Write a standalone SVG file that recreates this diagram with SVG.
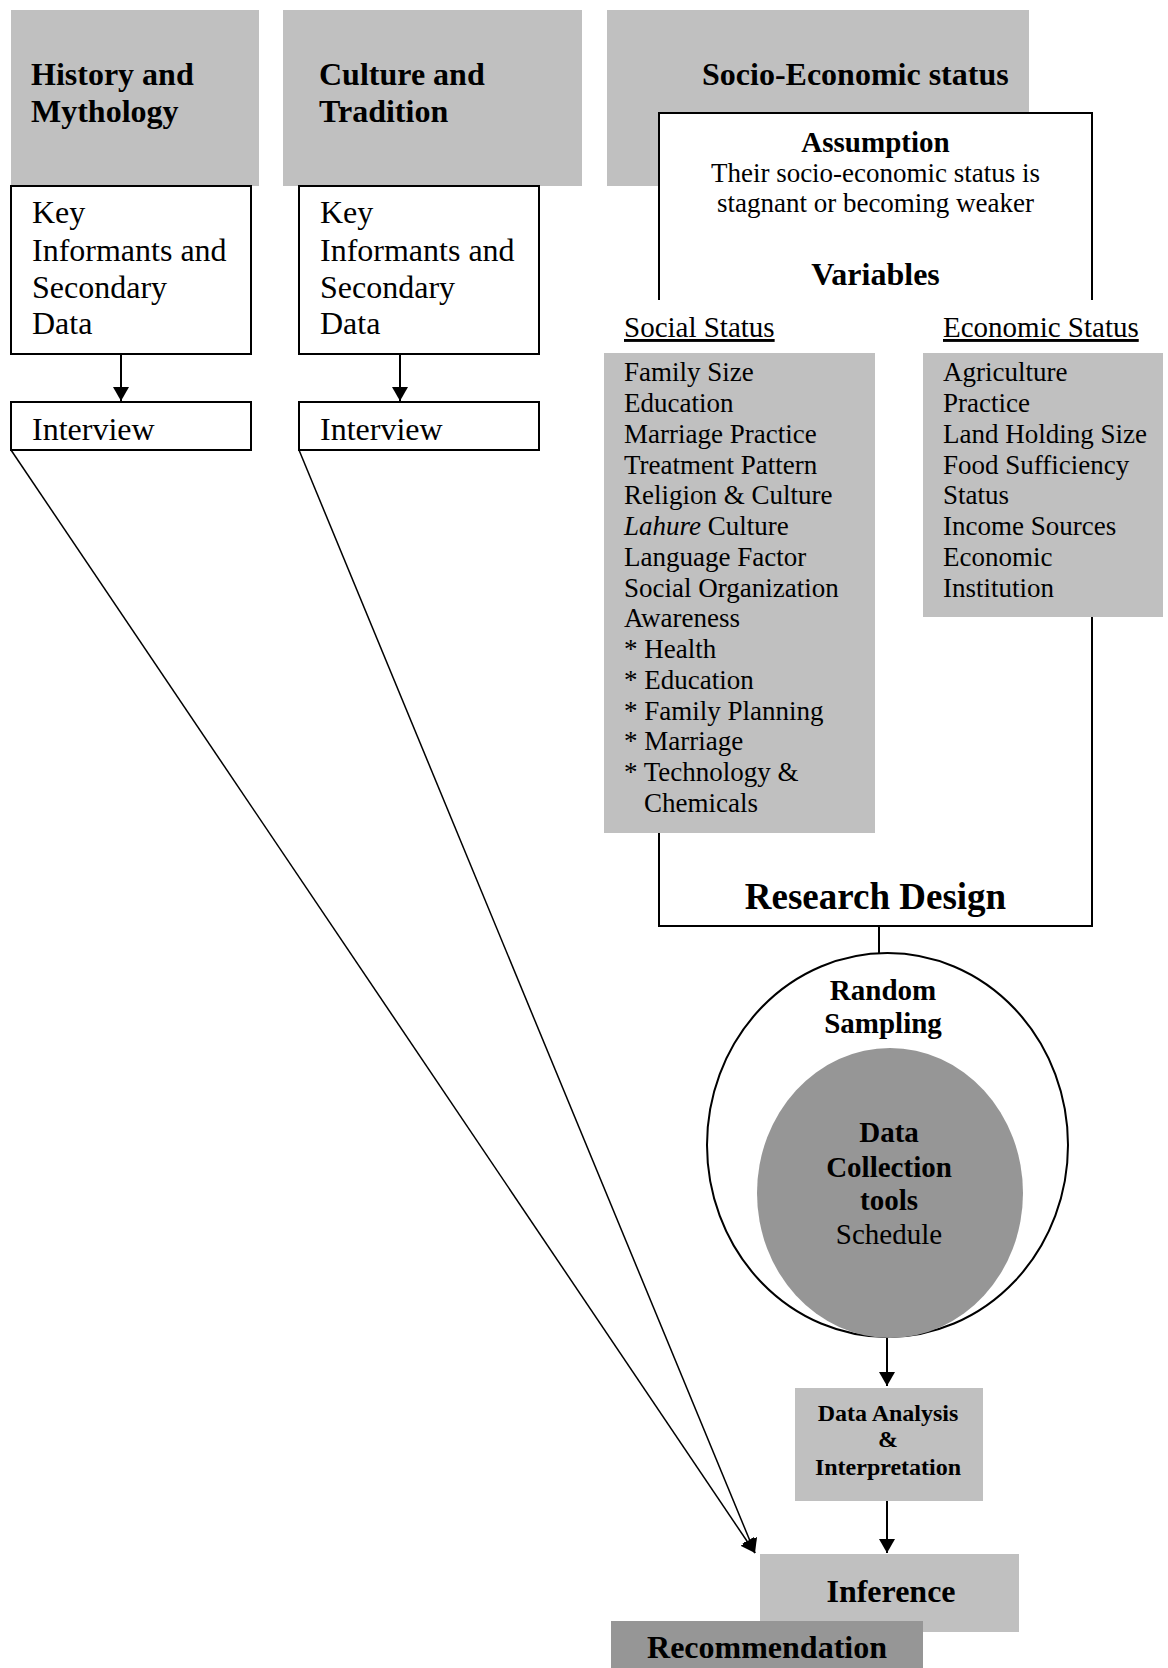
<svg xmlns="http://www.w3.org/2000/svg" width="1168" height="1668" viewBox="0 0 1168 1668">
<style>
text{font-family:"Liberation Serif","Times New Roman",serif;fill:#000}
.b{font-weight:bold}
.h{font-size:32px;font-weight:bold}
.k{font-size:32px}
.s{font-size:27px}
.m{font-size:29px}
.c{text-anchor:middle}
.lg{fill:#c0c0c0;stroke:none}
.dg{fill:#969696;stroke:none}
.wb{fill:#fff;stroke:#000;stroke-width:2}
.ln{fill:none;stroke:#000;stroke-width:2}
.dl{fill:none;stroke:#000;stroke-width:1.5}
</style>
<defs>
<marker id="ah" viewBox="0 0 14 16" refX="14" refY="8" markerWidth="14" markerHeight="16" markerUnits="userSpaceOnUse" orient="auto">
<path d="M0,0 L14,8 L0,16 z" fill="#000"/>
</marker>
</defs>
<rect width="1168" height="1668" fill="#fff"/>

<g id="history">
<rect class="lg" x="11" y="10" width="248" height="176"/>
<text class="h" x="31" y="85">History and</text>
<text class="h" x="31" y="122">Mythology</text>
</g>
<g id="culture">
<rect class="lg" x="283" y="10" width="299" height="176"/>
<text class="h" x="319" y="85">Culture and</text>
<text class="h" x="319" y="122">Tradition</text>
</g>
<g id="socio">
<rect class="lg" x="607" y="10" width="422" height="176"/>
<text class="h" x="702" y="85">Socio-Economic status</text>
</g>

<g id="key1">
<rect class="wb" x="11" y="186" width="240" height="168"/>
<text class="k" x="32" y="223">Key</text>
<text class="k" x="32" y="261">Informants and</text>
<text class="k" x="32" y="298">Secondary</text>
<text class="k" x="32" y="334">Data</text>
</g>
<g id="key2">
<rect class="wb" x="299" y="186" width="240" height="168"/>
<text class="k" x="320" y="223">Key</text>
<text class="k" x="320" y="261">Informants and</text>
<text class="k" x="320" y="298">Secondary</text>
<text class="k" x="320" y="334">Data</text>
</g>
<g id="interview1">
<rect class="wb" x="11" y="402" width="240" height="48"/>
<text class="k" x="32" y="440">Interview</text>
</g>
<g id="interview2">
<rect class="wb" x="299" y="402" width="240" height="48"/>
<text class="k" x="320" y="440">Interview</text>
</g>

<g id="framework">
<rect x="659" y="113" width="433" height="187" fill="#fff"/>
<path class="ln" d="M659,300 V113 H1092 V300"/>
<path class="ln" d="M659,820 V926 H1092 V600"/>
<text class="c b" x="875.5" y="152" style="font-size:29px">Assumption</text>
<text class="c s" x="875.5" y="182">Their socio-economic status is</text>
<text class="c s" x="875.5" y="212">stagnant or becoming weaker</text>
<text class="c h" x="875.5" y="285">Variables</text>
<text class="c b" x="875.5" y="909" style="font-size:37px">Research Design</text>
</g>

<g id="social">
<text class="m" x="624" y="337" text-decoration="underline">Social Status</text>
<rect class="lg" x="604" y="353" width="271" height="480"/>
<text class="s" x="624" y="381">Family Size</text>
<text class="s" x="624" y="412">Education</text>
<text class="s" x="624" y="443">Marriage Practice</text>
<text class="s" x="624" y="474">Treatment Pattern</text>
<text class="s" x="624" y="504">Religion &amp; Culture</text>
<text class="s" x="624" y="535"><tspan font-style="italic">Lahure</tspan> Culture</text>
<text class="s" x="624" y="566">Language Factor</text>
<text class="s" x="624" y="597">Social Organization</text>
<text class="s" x="624" y="627">Awareness</text>
<text class="s" x="624" y="658">* Health</text>
<text class="s" x="624" y="689">* Education</text>
<text class="s" x="624" y="720">* Family Planning</text>
<text class="s" x="624" y="750">* Marriage</text>
<text class="s" x="624" y="781">* Technology &amp;</text>
<text class="s" x="644" y="812">Chemicals</text>
</g>

<g id="economic">
<text class="m" x="943" y="337" text-decoration="underline">Economic Status</text>
<rect class="lg" x="923" y="353" width="240" height="264"/>
<text class="s" x="943" y="381">Agriculture</text>
<text class="s" x="943" y="412">Practice</text>
<text class="s" x="943" y="443">Land Holding Size</text>
<text class="s" x="943" y="474">Food Sufficiency</text>
<text class="s" x="943" y="504">Status</text>
<text class="s" x="943" y="535">Income Sources</text>
<text class="s" x="943" y="566">Economic</text>
<text class="s" x="943" y="597">Institution</text>
</g>

<g id="sampling">
<ellipse cx="887.5" cy="1145" rx="180.5" ry="192" class="wb"/>
<text class="c b" x="883" y="1000" style="font-size:29px">Random</text>
<text class="c b" x="883" y="1033" style="font-size:29px">Sampling</text>
</g>
<g id="tools">
<ellipse cx="890" cy="1193" rx="133" ry="145" class="dg"/>
<text class="c b" x="889" y="1142" style="font-size:29px">Data</text>
<text class="c b" x="889" y="1177" style="font-size:29px">Collection</text>
<text class="c b" x="889" y="1210" style="font-size:29px">tools</text>
<text class="c" x="889" y="1244" style="font-size:29px">Schedule</text>
</g>

<g id="analysis">
<rect class="lg" x="795" y="1388" width="188" height="113"/>
<text class="c b" x="888" y="1421" style="font-size:24px">Data Analysis</text>
<text class="c b" x="888" y="1447" style="font-size:24px">&amp;</text>
<text class="c b" x="888" y="1475" style="font-size:24px">Interpretation</text>
</g>
<g id="inference">
<rect class="lg" x="760" y="1554" width="259" height="78"/>
<text class="c h" x="891" y="1602">Inference</text>
</g>
<g id="recommendation">
<rect class="dg" x="611" y="1621" width="312" height="47"/>
<text class="c h" x="767" y="1658">Recommendation</text>
</g>

<g id="connectors">
<line class="ln" x1="121" y1="354" x2="121" y2="401" marker-end="url(#ah)"/>
<line class="ln" x1="400" y1="354" x2="400" y2="401" marker-end="url(#ah)"/>
<line class="dl" x1="11" y1="450" x2="755" y2="1553" marker-end="url(#ah)"/>
<line class="dl" x1="299" y1="450" x2="755" y2="1553" marker-end="url(#ah)"/>
<line class="ln" x1="879" y1="926" x2="879" y2="953"/>
<line class="ln" x1="887" y1="1338" x2="887" y2="1386" marker-end="url(#ah)"/>
<line class="ln" x1="887" y1="1501" x2="887" y2="1553" marker-end="url(#ah)"/>
</g>
</svg>
